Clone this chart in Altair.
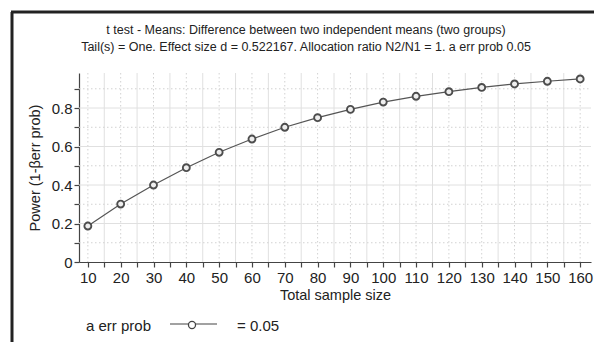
import altair as alt
import pandas as pd

# ---- data ----
sample_size = [10, 20, 30, 40, 50, 60, 70, 80, 90, 100, 110, 120, 130, 140, 150, 160]
power = [0.187, 0.301, 0.400, 0.490, 0.570, 0.639, 0.700, 0.750, 0.793,
         0.831, 0.861, 0.885, 0.907, 0.925, 0.939, 0.951]
x_major = list(range(10, 161, 10))
x_minor = list(range(15, 160, 10))
y_ticks = [0.0, 0.1, 0.2, 0.3, 0.4, 0.5, 0.6, 0.7, 0.8, 0.9]
y_major = [0.2, 0.4, 0.6, 0.8]
y_minor = [0.1, 0.3, 0.5, 0.7, 0.9]
title_line1 = "t test - Means: Difference between two independent means (two groups)"
title_line2 = "Tail(s) = One. Effect size d = 0.522167. Allocation ratio N2/N1 = 1. a err prob 0.05"
legend_title = "a err prob"
legend_label = "= 0.05"

FONT = "Liberation Sans, Arial, sans-serif"
W, H = 512, 189
XDOM = [7.3, 163.3]
YDOM = [0, 0.982]

df = pd.DataFrame({"n": sample_size, "power": power})
xs = alt.Scale(domain=XDOM, nice=False, zero=False)
ys = alt.Scale(domain=YDOM, nice=False, zero=False)

xaxis = alt.Axis(
    values=list(range(10, 161, 5)),
    labelExpr="datum.value % 10 == 0 ? datum.label : ''",
    format="d", grid=False, tickSize=5, labelPadding=3, labelOverlap=False,
    title="Total sample size", titlePadding=3,
)
yaxis = alt.Axis(
    values=y_ticks,
    labelExpr="round(datum.value * 10) % 2 == 0 ? format(datum.value, '.1~f') : ''",
    grid=False, tickSize=5, labelPadding=2, labelOverlap=False,
    title="Power (1-βerr prob)", titlePadding=9,
)

one = alt.Chart(pd.DataFrame({"k": [0]}))

xgrid_dot = alt.Chart(pd.DataFrame({"g": x_major})).mark_rule(
    color="#d2d2d2", strokeDash=[1.5, 2.5], strokeWidth=1
).encode(x=alt.X("g:Q", scale=xs, axis=xaxis), y=alt.value(0), y2=alt.value(H))
xgrid_sol = alt.Chart(pd.DataFrame({"g": x_minor})).mark_rule(
    color="#e0e0e0", strokeWidth=1
).encode(x=alt.X("g:Q", scale=xs, axis=xaxis), y=alt.value(0), y2=alt.value(H))
ygrid_sol = alt.Chart(pd.DataFrame({"g": y_major})).mark_rule(
    color="#e0e0e0", strokeWidth=1
).encode(y=alt.Y("g:Q", scale=ys, axis=yaxis), x=alt.value(0), x2=alt.value(W))
ygrid_dot = alt.Chart(pd.DataFrame({"g": y_minor})).mark_rule(
    color="#d2d2d2", strokeDash=[1.5, 2.5], strokeWidth=1
).encode(y=alt.Y("g:Q", scale=ys, axis=yaxis), x=alt.value(0), x2=alt.value(W))

line = alt.Chart(df).mark_line(color="#555555", strokeWidth=1.2).encode(
    x=alt.X("n:Q", scale=xs, axis=xaxis),
    y=alt.Y("power:Q", scale=ys, axis=yaxis),
)
pts = alt.Chart(df).mark_point(
    shape="circle", filled=True, fill="#eeeeee", stroke="#4d4d4d",
    strokeWidth=1.9, size=48, opacity=1
).encode(x=alt.X("n:Q", scale=xs, axis=xaxis), y=alt.Y("power:Q", scale=ys, axis=yaxis))

# frame around the figure (left and top edges visible)
frame_left = one.mark_rule(color="#222222", strokeWidth=3).encode(
    x=alt.value(-67), y=alt.value(-61), y2=alt.value(H + 90))
frame_top = one.mark_rule(color="#222222", strokeWidth=3).encode(
    y=alt.value(-61), x=alt.value(-68), x2=alt.value(W + 20))

# two-line title
t1 = one.mark_text(font=FONT, fontSize=12.5, color="#222222", align="center",
                   baseline="middle").encode(
    x=alt.value(227), y=alt.value(-43), text=alt.value(title_line1))
t2 = one.mark_text(font=FONT, fontSize=12.5, color="#222222", align="center",
                   baseline="middle").encode(
    x=alt.value(227), y=alt.value(-26), text=alt.value(title_line2))

# legend drawn below the axis title
leg_title = one.mark_text(font=FONT, fontSize=15, color="#222222", align="left",
                          baseline="alphabetic").encode(
    x=alt.value(7), y=alt.value(258), text=alt.value(legend_title))
leg_line = one.mark_rule(color="#444444", strokeWidth=1.2).encode(
    x=alt.value(91), x2=alt.value(138), y=alt.value(251))
leg_pt = one.mark_point(shape="circle", filled=True, fill="white", stroke="#444444",
                        strokeWidth=1.3, size=50, opacity=1).encode(
    x=alt.value(113), y=alt.value(252))
leg_label = one.mark_text(font=FONT, fontSize=15, color="#222222", align="left",
                          baseline="alphabetic").encode(
    x=alt.value(158), y=alt.value(258), text=alt.value(legend_label))

chart = alt.layer(
    xgrid_sol, xgrid_dot, ygrid_sol, ygrid_dot, line, pts,
    frame_left, frame_top, t1, t2, leg_title, leg_line, leg_pt, leg_label,
).properties(
    width=W, height=H,
    autosize=alt.AutoSizeParams(type="none"),
    padding={"left": 71, "top": 65, "right": 3, "bottom": 80},
).configure_view(stroke=None).configure_axis(
    labelFont=FONT, titleFont=FONT, labelFontSize=15, titleFontSize=14.5,
    titleFontWeight="normal", labelColor="#222222", titleColor="#222222",
    domainColor="#444444", tickColor="#444444", domainWidth=1.2, tickWidth=1.2,
    labelFlush=False, labelOverlap=False,
)

chart.save("out.html", embed_options={"renderer": "svg", "actions": False})
